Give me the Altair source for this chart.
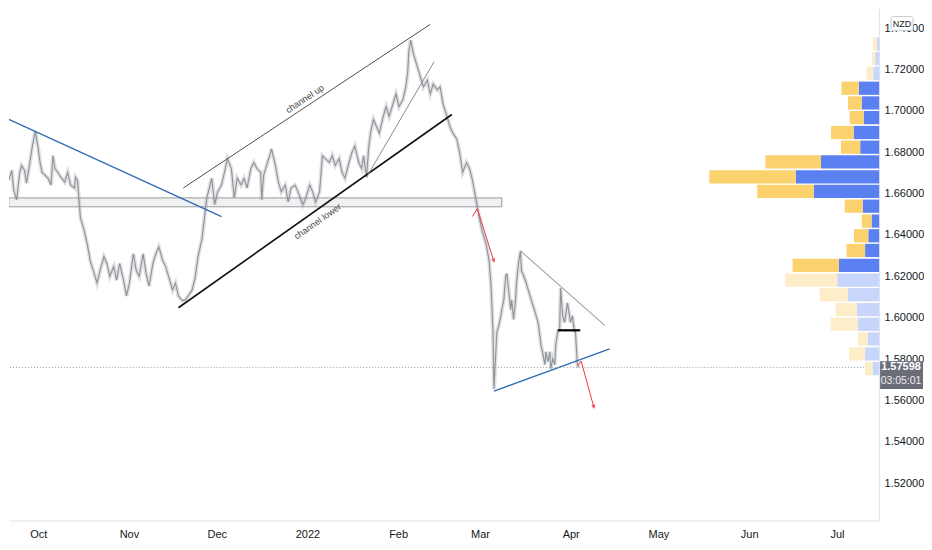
import altair as alt
import pandas as pd

START = pd.Timestamp("2021-10-01")
W, H = 872, 513
FONT = "Liberation Sans Narrow, Liberation Sans, Arial, sans-serif"

# ---- price trace (days since 2021-10-01, price) ----
price_points = [
    (-10.05, 1.6665), (-9.05, 1.6712), (-8.38, 1.6617), (-7.37, 1.6570), (-6.37, 1.6698),
    (-5.70, 1.6736), (-4.69, 1.6712), (-4.02, 1.6650), (-3.02, 1.6736), (-2.01, 1.6830),
    (-1.01, 1.6901), (0.00, 1.6816), (0.67, 1.6745), (1.34, 1.6702), (2.35, 1.6688),
    (3.35, 1.6674), (4.36, 1.6641), (5.03, 1.6783), (5.70, 1.6721), (6.70, 1.6702),
    (7.71, 1.6679), (9.05, 1.6655), (10.05, 1.6702), (11.06, 1.6641), (12.40, 1.6627),
    (12.73, 1.6679), (13.40, 1.6665), (14.07, 1.6546),
    (14.41, 1.6484), (15.75, 1.6418), (16.75, 1.6356), (17.76, 1.6276), (19.10, 1.6214),
    (20.10, 1.6167), (21.11, 1.6228), (22.45, 1.6295), (23.45, 1.6262), (24.46, 1.6200),
    (25.80, 1.6247), (26.80, 1.6181), (27.81, 1.6262), (29.15, 1.6181), (30.15, 1.6105),
    (31.16, 1.6167), (32.50, 1.6309), (33.50, 1.6228), (34.51, 1.6200), (35.85, 1.6309),
    (36.85, 1.6214), (37.86, 1.6153), (39.20, 1.6262), (40.20, 1.6309), (41.21, 1.6342),
    (42.55, 1.6276), (43.55, 1.6247), (44.56, 1.6200), (45.90, 1.6134), (46.90, 1.6167),
    (47.91, 1.6105), (49.25, 1.6082), (50.25, 1.6086), (51.26, 1.6105), (52.60, 1.6134),
    (53.60, 1.6191), (54.61, 1.6295), (55.95, 1.6380), (56.95, 1.6499),
    (57.62, 1.6579), (58.29, 1.6617), (59.30, 1.6674), (60.30, 1.6546), (61.31, 1.6608),
    (62.65, 1.6641), (63.65, 1.6702), (64.66, 1.6769), (66.00, 1.6721), (67.00, 1.6579),
    (68.01, 1.6674), (69.35, 1.6641), (70.35, 1.6674), (71.36, 1.6627), (72.70, 1.6721),
    (73.70, 1.6750), (74.71, 1.6721), (76.05, 1.6702), (76.38, 1.6570), (77.05, 1.6688),
    (78.06, 1.6736), (79.40, 1.6797), (79.73, 1.6816), (81.07, 1.6736), (82.08, 1.6655),
    (83.08, 1.6608), (84.42, 1.6641), (85.43, 1.6560), (86.43, 1.6627), (87.77, 1.6641),
    (88.78, 1.6608), (90.45, 1.6546), (91.46, 1.6579), (92.80, 1.6641), (93.80, 1.6608),
    (94.81, 1.6560), (96.15, 1.6608), (97.15, 1.6783), (98.16, 1.6769), (99.50, 1.6750),
    (100.50, 1.6783), (101.51, 1.6736), (102.85, 1.6769), (103.85, 1.6702), (104.86, 1.6674),
    (106.20, 1.6750), (107.20, 1.6797), (108.21, 1.6830), (109.55, 1.6750), (110.55, 1.6721),
    (111.22, 1.6783), (112.23, 1.6679), (112.90, 1.6816), (113.57, 1.6892), (114.57, 1.6958),
    (115.58, 1.6925), (116.58, 1.6892), (117.92, 1.6973), (118.93, 1.7020), (119.93, 1.6973),
    (121.27, 1.7034), (122.28, 1.7082), (123.28, 1.7020), (124.62, 1.7053), (125.63, 1.7115),
    (126.30, 1.7186), (126.63, 1.7281), (127.30, 1.7342),
    (128.31, 1.7271), (129.65, 1.7210), (130.65, 1.7162), (131.66, 1.7115), (133.00, 1.7148),
    (134.00, 1.7082), (135.01, 1.7129), (136.35, 1.7101), (137.35, 1.7115), (138.36, 1.7034),
    (139.70, 1.6973), (140.70, 1.6925), (141.71, 1.6892), (143.05, 1.6864), (144.05, 1.6797),
    (145.06, 1.6702), (146.40, 1.6750), (147.40, 1.6721), (148.41, 1.6665), (149.75, 1.6560),
    (150.75, 1.6484), (151.76, 1.6418), (153.10, 1.6356), (154.10, 1.6276), (154.77, 1.6153),
    (155.44, 1.5930), (155.78, 1.5655),
    (156.45, 1.5849), (156.78, 1.5930), (157.45, 1.5963), (158.12, 1.6010), (158.46, 1.6039),
    (159.13, 1.6086), (159.80, 1.6200), (160.13, 1.6214), (160.80, 1.6134), (161.47, 1.6039),
    (161.81, 1.6086), (162.48, 1.5991), (163.15, 1.6086), (163.48, 1.6167), (164.15, 1.6262),
    (164.82, 1.6323), (165.16, 1.6228), (166.50, 1.6181), (167.50, 1.6134), (168.51, 1.6086),
    (169.85, 1.6025), (170.85, 1.5977), (171.86, 1.5868), (172.53, 1.5821), (173.20, 1.5773),
    (173.53, 1.5835), (174.20, 1.5788), (174.87, 1.5835), (175.21, 1.5754), (175.88, 1.5802),
    (176.55, 1.5773), (176.88, 1.5868), (177.55, 1.5930), (178.22, 1.5944), (178.56, 1.6143),
    (179.23, 1.6010), (179.90, 1.5977), (180.23, 1.6010), (180.90, 1.6072), (181.57, 1.6010),
    (181.91, 1.5977), (182.58, 1.6010), (183.25, 1.5930), (183.58, 1.5944), (184.25, 1.5778),
    (184.59, 1.5760),
]
last_price = 1.57598
last_price_text = "1.57598"
countdown_text = "03:05:01"
currency_text = "NZD"

# ---- drawings (day, price) ----
blue_trend = [((-10.05, 1.6958), (62.65, 1.6489))]
tri_support = [((155.78, 1.5645), (195.31, 1.5849))]
channel_up = [((49.58, 1.6627), (134.00, 1.7418))]
channel_lower = [((47.91, 1.6048), (141.37, 1.6982))]
steep_trend = [((112.23, 1.6679), (135.34, 1.7238))]
tri_resist = [((164.82, 1.6323), (193.63, 1.5963))]
flag_level = [((177.55, 1.5939), (185.26, 1.5939))]
red_arrows = [((150.08, 1.6527), (155.78, 1.6271)), ((185.59, 1.5790), (189.95, 1.5565))]
red_hooks = [((148.41, 1.6489), (150.08, 1.6527)), ((184.42, 1.5769), (185.59, 1.5790))]
zone = [((-10.05, 1.6536), (158.46, 1.6579))]
label_up = ("channel up", 91.1, 1.7058)
label_lower = ("channel lower", 95.5, 1.6465)

# ---- volume profile rows ----
vp_price = [1.7323, 1.7252, 1.7181, 1.7109, 1.7038, 1.6967, 1.6895, 1.6824, 1.6753, 1.6681,
            1.6610, 1.6539, 1.6467, 1.6396, 1.6325, 1.6253, 1.6182, 1.6111, 1.6039, 1.5968,
            1.5897, 1.5825, 1.5754]
vp_up = [2.3, 4, 6, 20.7, 17.7, 15.7, 26, 19.3, 59.3, 85, 66.7, 16.7, 7.7, 11, 14.3, 41,
         42.7, 31.7, 22.7, 21.7, 11.7, 14.3, 6.7]
vp_down = [4, 3.3, 6.7, 17.7, 14, 14.3, 23, 19.7, 56.7, 88.3, 57.7, 18.3, 10, 14.7, 19, 47.3,
           53, 29, 21.7, 27.7, 10, 16.3, 7.7]
vp_value_area = [False, False, False] + [True] * 13 + [False] * 7
vp_row_half = 0.0032

y_ticks = [1.52, 1.54, 1.56, 1.58, 1.60, 1.62, 1.64, 1.66, 1.68, 1.70, 1.72, 1.74]
month_ticks = [(2021, 10), (2021, 11), (2021, 12), (2022, 1), (2022, 2), (2022, 3),
               (2022, 4), (2022, 5), (2022, 6), (2022, 7)]


def day(d):
    return START + pd.Timedelta(days=float(d))


xscale = alt.Scale(domain=[alt.DateTime(year=2021, month=9, date=21),
                           alt.DateTime(year=2022, month=7, date=15, hours=10)])
yscale = alt.Scale(domain=[1.5020, 1.7494], zero=False, nice=False)

x_axis = alt.Axis(values=[alt.DateTime(year=y, month=m, date=1) for y, m in month_ticks],
                  labelExpr="month(datum.value) == 0 ? timeFormat(datum.value, '%Y') : timeFormat(datum.value, '%b')",
                  ticks=False, grid=False, title=None, labelPadding=8, zindex=0,
                  domainColor="#e0e3eb", labelColor="#131722", labelFontSize=11,
                  labelFont=FONT)
y_axis = alt.Axis(orient="right", values=y_ticks, format=".5f", ticks=False, grid=False,
                  title=None, labelPadding=5, domainColor="#e0e3eb", labelColor="#131722",
                  labelFontSize=11, labelFont=FONT, zindex=0)


def X(f):
    return alt.X(f, type="temporal", scale=xscale, axis=x_axis)


def Y(f):
    return alt.Y(f, type="quantitative", scale=yscale, axis=y_axis)


def seg_df(segs):
    return pd.DataFrame({
        "t1": [day(a[0]) for a, b in segs], "p1": [a[1] for a, b in segs],
        "t2": [day(b[0]) for a, b in segs], "p2": [b[1] for a, b in segs],
    })


def seg_layer(segs, color, width):
    return alt.Chart(seg_df(segs)).mark_rule(color=color, strokeWidth=width, clip=True).encode(
        x=X("t1"), x2="t2", y=Y("p1"), y2="p2")


price_df = pd.DataFrame({"t": [day(d) for d, p in price_points],
                         "p": [p for d, p in price_points]})

zone_layer = alt.Chart(seg_df(zone)).mark_rect(
    fill="#f0f1f3", stroke="#9b9b9b", strokeWidth=1, clip=True).encode(
    x=X("t1"), x2="t2", y=Y("p1"), y2="p2")

price_band = alt.Chart(price_df).mark_line(
    color="#a3a6ad", strokeWidth=4, opacity=0.35, clip=True).encode(
    x=X("t"), y=Y("p"))
price_line = alt.Chart(price_df).mark_line(
    color="#8f9299", strokeWidth=1.1, clip=True).encode(
    x=X("t"), y=Y("p"))

last_line = alt.Chart(pd.DataFrame({"p": [last_price]})).mark_rule(
    color="#9598a1", strokeDash=[1, 2], strokeWidth=1).encode(y=Y("p"))

arrow_ends = pd.DataFrame({"t": [day(b[0]) for a, b in red_arrows],
                           "p": [b[1] for a, b in red_arrows],
                           "ang": [342.5, 344.5]})
arrow_heads = alt.Chart(arrow_ends).mark_point(
    shape="M-0.7,-1.6L0,0L0.7,-1.6", filled=False, color="#f23645", strokeWidth=1,
    size=16, opacity=1).encode(x=X("t"), y=Y("p"), angle=alt.Angle("ang:Q", scale=None))

txt_up = alt.Chart(pd.DataFrame({"t": [day(label_up[1])], "p": [label_up[2]],
                                 "s": [label_up[0]]})).mark_text(
    angle=326.5, fontSize=9, color="#444444", font=FONT).encode(
    x=X("t"), y=Y("p"), text="s:N")
txt_lower = alt.Chart(pd.DataFrame({"t": [day(label_lower[1])], "p": [label_lower[2]],
                                    "s": [label_lower[0]]})).mark_text(
    angle=325, fontSize=9, color="#444444", font=FONT).encode(
    x=X("t"), y=Y("p"), text="s:N")

one = pd.DataFrame({"p": [last_price], "top": [1.5790], "bot": [1.5655]})
price_box = alt.Chart(one).mark_rect(fill="#6a6d78").encode(
    x=alt.value(W + 1), x2=alt.value(W + 44), y=Y("top"), y2="bot")
price_txt = alt.Chart(pd.DataFrame({"p": [last_price], "s": [last_price_text]})).mark_text(
    color="white", fontSize=11, fontWeight="bold", font=FONT, dy=0).encode(
    x=alt.value(W + 22), y=Y("p"), text="s:N")
count_txt = alt.Chart(pd.DataFrame({"p": [last_price], "s": [countdown_text]})).mark_text(
    color="#eeeeee", fontSize=10.5, font=FONT, dy=14).encode(
    x=alt.value(W + 22), y=Y("p"), text="s:N")

badge = alt.Chart(pd.DataFrame({"s": [currency_text]})).mark_rect(
    fill="white", stroke="#c8cbd3", strokeWidth=1, cornerRadius=2).encode(
    x=alt.value(W + 12), x2=alt.value(W + 34), y=alt.value(8), y2=alt.value(22))
badge_txt = alt.Chart(pd.DataFrame({"s": [currency_text]})).mark_text(
    fontSize=9, color="#131722", font=FONT).encode(
    x=alt.value(W + 23), y=alt.value(15), text="s:N")

inner = alt.layer(
    zone_layer, price_band, price_line,
    seg_layer(blue_trend, "#2f6db5", 1.4),
    seg_layer(channel_up, "#4d4d4d", 1),
    seg_layer(channel_lower, "#111111", 1.6),
    seg_layer(steep_trend, "#8a8a8a", 1),
    seg_layer(tri_resist, "#a3a3a3", 1.1),
    seg_layer(tri_support, "#2f6db5", 1.4),
    seg_layer(flag_level, "#000000", 2.2),
    last_line,
    seg_layer(red_arrows, "#f23645", 1),
    seg_layer(red_hooks, "#f23645", 1),
    arrow_heads, txt_up, txt_lower,
)

# volume profile bars
rows = []
for c, u, d, va in zip(vp_price, vp_up, vp_down, vp_value_area):
    rows.append({"lo": c - vp_row_half, "hi": c + vp_row_half, "v0": 0, "v1": u,
                 "kind": "up" + ("_va" if va else "")})
    rows.append({"lo": c - vp_row_half, "hi": c + vp_row_half, "v0": u, "v1": u + d,
                 "kind": "down" + ("_va" if va else "")})
vp_df = pd.DataFrame(rows)

vol = alt.Chart(vp_df).mark_rect().encode(
    x=alt.X("v0:Q", scale=alt.Scale(domain=[0, 888], reverse=True), axis=None),
    x2="v1:Q",
    y=Y("lo"), y2="hi",
    color=alt.Color("kind:N", legend=None, scale=alt.Scale(
        domain=["up_va", "down_va", "up", "down"],
        range=["#5b80f2", "#fcd26e", "#c9d6fb", "#fdeec9"])),
)

overlay = alt.layer(price_box, price_txt, count_txt, badge, badge_txt)

chart = alt.layer(inner, vol, overlay).resolve_scale(x="independent").properties(
    width=W, height=H, padding=0, background="white"
).configure_view(stroke=None)

chart.save("out.html", embed_options={"renderer": "svg", "actions": False})
